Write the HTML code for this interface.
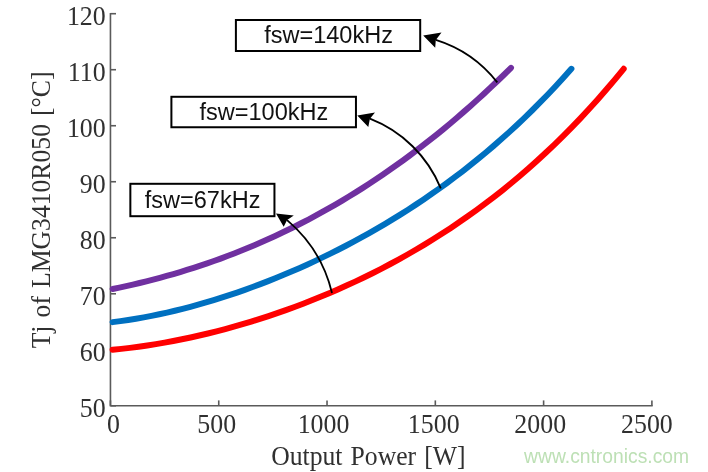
<!DOCTYPE html>
<html><head><meta charset="utf-8"><title>Tj vs Output Power</title>
<style>
html,body{margin:0;padding:0;background:#fff;}
svg{display:block;filter:blur(0.45px);}
.tk{font-family:"Liberation Serif",serif;font-size:27.3px;fill:#303030;}
.lb{font-family:"Liberation Serif",serif;font-size:27.3px;fill:#303030;word-spacing:1.8px;}
.an{font-family:"Liberation Sans",sans-serif;font-size:24px;fill:#111;}
.wm{font-family:"Liberation Sans",sans-serif;font-size:19.3px;fill:#bde0b5;}
</style></head><body>
<svg width="708" height="472" viewBox="0 0 708 472">
<rect width="708" height="472" fill="#fff"/>
<!-- axes -->
<g fill="none" stroke="#5a5a5a" stroke-width="1.6">
<path d="M110.45 12.9 V405.8 H652.7"/>
<line x1="110.5" y1="405.80" x2="116" y2="405.80"/>
<line x1="110.5" y1="349.79" x2="116" y2="349.79"/>
<line x1="110.5" y1="293.77" x2="116" y2="293.77"/>
<line x1="110.5" y1="237.76" x2="116" y2="237.76"/>
<line x1="110.5" y1="181.74" x2="116" y2="181.74"/>
<line x1="110.5" y1="125.73" x2="116" y2="125.73"/>
<line x1="110.5" y1="69.71" x2="116" y2="69.71"/>
<line x1="110.5" y1="13.70" x2="116" y2="13.70"/>
<line x1="110.45" y1="405.8" x2="110.45" y2="400.4"/>
<line x1="218.74" y1="405.8" x2="218.74" y2="400.4"/>
<line x1="327.03" y1="405.8" x2="327.03" y2="400.4"/>
<line x1="435.32" y1="405.8" x2="435.32" y2="400.4"/>
<line x1="543.61" y1="405.8" x2="543.61" y2="400.4"/>
<line x1="651.90" y1="405.8" x2="651.90" y2="400.4"/>
</g>
<!-- curves -->
<g fill="none" stroke-width="6.0" stroke-linecap="round" stroke-linejoin="round">
<path d="M112.60 288.98 L119.35 287.57 L126.11 286.11 L132.86 284.58 L139.61 282.99 L146.36 281.34 L153.12 279.61 L159.87 277.83 L166.62 275.97 L173.37 274.05 L180.13 272.05 L186.88 269.98 L193.63 267.85 L200.38 265.64 L207.14 263.35 L213.89 260.99 L220.64 258.56 L227.39 256.04 L234.15 253.45 L240.90 250.79 L247.65 248.04 L254.40 245.21 L261.16 242.30 L267.91 239.30 L274.66 236.22 L281.41 233.06 L288.17 229.81 L294.92 226.47 L301.67 223.05 L308.42 219.54 L315.18 215.93 L321.93 212.24 L328.68 208.45 L335.43 204.57 L342.19 200.60 L348.94 196.53 L355.69 192.37 L362.44 188.11 L369.20 183.75 L375.95 179.29 L382.70 174.74 L389.45 170.08 L396.21 165.32 L402.96 160.45 L409.71 155.49 L416.46 150.42 L423.22 145.24 L429.97 139.95 L436.72 134.56 L443.47 129.06 L450.23 123.45 L456.98 117.72 L463.73 111.89 L470.48 105.94 L477.24 99.88 L483.99 93.70 L490.74 87.41 L497.49 81.00 L504.25 74.47 L511.00 67.83" stroke="#7030a0"/>
<path d="M112.60 322.12 L120.38 321.11 L128.15 319.98 L135.93 318.73 L143.71 317.35 L151.48 315.87 L159.26 314.27 L167.03 312.56 L174.81 310.75 L182.59 308.83 L190.36 306.80 L198.14 304.67 L205.92 302.45 L213.69 300.12 L221.47 297.70 L229.24 295.18 L237.02 292.56 L244.80 289.84 L252.57 287.03 L260.35 284.13 L268.13 281.13 L275.90 278.03 L283.68 274.84 L291.45 271.55 L299.23 268.17 L307.01 264.68 L314.78 261.10 L322.56 257.41 L330.34 253.63 L338.11 249.74 L345.89 245.74 L353.66 241.64 L361.44 237.42 L369.22 233.10 L376.99 228.66 L384.77 224.10 L392.55 219.42 L400.32 214.61 L408.10 209.68 L415.87 204.62 L423.65 199.43 L431.43 194.09 L439.20 188.61 L446.98 182.99 L454.76 177.21 L462.53 171.28 L470.31 165.19 L478.08 158.93 L485.86 152.50 L493.64 145.90 L501.41 139.11 L509.19 132.13 L516.97 124.97 L524.74 117.60 L532.52 110.02 L540.29 102.23 L548.07 94.23 L555.85 85.99 L563.62 77.53 L571.40 68.82" stroke="#0070c0"/>
<path d="M112.60 349.77 L121.26 348.88 L129.93 347.87 L138.59 346.73 L147.25 345.48 L155.91 344.10 L164.58 342.61 L173.24 341.01 L181.90 339.29 L190.56 337.46 L199.23 335.52 L207.89 333.47 L216.55 331.31 L225.22 329.05 L233.88 326.67 L242.54 324.18 L251.20 321.59 L259.87 318.89 L268.53 316.08 L277.19 313.15 L285.85 310.12 L294.52 306.97 L303.18 303.71 L311.84 300.33 L320.51 296.83 L329.17 293.21 L337.83 289.47 L346.49 285.60 L355.16 281.60 L363.82 277.48 L372.48 273.22 L381.14 268.82 L389.81 264.27 L398.47 259.59 L407.13 254.75 L415.79 249.76 L424.46 244.61 L433.12 239.29 L441.78 233.81 L450.45 228.16 L459.11 222.32 L467.77 216.31 L476.43 210.10 L485.10 203.69 L493.76 197.09 L502.42 190.27 L511.08 183.24 L519.75 175.98 L528.41 168.50 L537.07 160.78 L545.74 152.81 L554.40 144.60 L563.06 136.12 L571.72 127.37 L580.39 118.35 L589.05 109.04 L597.71 99.44 L606.37 89.54 L615.04 79.32 L623.70 68.78" stroke="#ff0000"/>
</g>
<text class="tk" transform="translate(105.70,416.70) scale(0.948,1)" text-anchor="end">50</text>
<text class="tk" transform="translate(105.70,360.69) scale(0.948,1)" text-anchor="end">60</text>
<text class="tk" transform="translate(105.70,304.67) scale(0.948,1)" text-anchor="end">70</text>
<text class="tk" transform="translate(105.70,248.66) scale(0.948,1)" text-anchor="end">80</text>
<text class="tk" transform="translate(105.70,192.64) scale(0.948,1)" text-anchor="end">90</text>
<text class="tk" transform="translate(105.70,136.63) scale(0.948,1)" text-anchor="end">100</text>
<text class="tk" transform="translate(105.70,80.61) scale(0.948,1)" text-anchor="end">110</text>
<text class="tk" transform="translate(105.70,24.60) scale(0.948,1)" text-anchor="end">120</text>
<text class="tk" transform="translate(113.50,433.10) scale(0.948,1)" text-anchor="middle">0</text>
<text class="tk" transform="translate(216.75,433.10) scale(0.948,1)" text-anchor="middle">500</text>
<text class="tk" transform="translate(323.50,433.10) scale(0.948,1)" text-anchor="middle">1000</text>
<text class="tk" transform="translate(433.70,433.10) scale(0.948,1)" text-anchor="middle">1500</text>
<text class="tk" transform="translate(540.20,433.10) scale(0.948,1)" text-anchor="middle">2000</text>
<text class="tk" transform="translate(646.90,433.10) scale(0.948,1)" text-anchor="middle">2500</text>

<text class="lb" transform="translate(50.20,209.90) rotate(-90) scale(0.940,1)" text-anchor="middle">Tj of LMG3410R050 [°C]</text>

<text class="lb" transform="translate(368.40,464.80) scale(0.940,1)" text-anchor="middle">Output Power [W]</text>

<!-- arrows -->
<g fill="none" stroke="#000" stroke-width="1.8">
<path d="M497.3 82.4 A125.9 125.9 0 0 0 435.8 39.9"/>
<path d="M440.8 188.4 A125.6 125.6 0 0 0 369.9 118.7"/>
<path d="M332 293 A137.1 137.1 0 0 0 287.1 220.1"/>
</g>
<g fill="#000">
<path d="M423.2 35.4 L441.5 32.4 L435.8 39.9 L435.2 47.8 Z"/>
<path d="M357.3 115.5 L375 112.6 L369.9 118.7 L368.3 126.9 Z"/>
<path d="M276 213.5 L293.8 215.5 L287.1 220.1 L283.7 226.7 Z"/>
</g>
<!-- label boxes -->
<g fill="#fff" stroke="#000" stroke-width="2">
<rect x="235.9" y="20.0" width="184.3" height="31.0"/>
<rect x="171.4" y="96.8" width="184.55" height="30.45"/>
<rect x="130.35" y="183.8" width="144.1" height="32.4"/>
</g>
<text class="an" transform="translate(264.20,43.00) scale(0.980,1)" text-anchor="start">fsw=140kHz</text>
<text class="an" transform="translate(199.50,120.00) scale(0.980,1)" text-anchor="start">fsw=100kHz</text>
<text class="an" transform="translate(144.80,207.80) scale(0.980,1)" text-anchor="start">fsw=67kHz</text>

<text class="wm" x="606.6" y="463.3" text-anchor="middle">www.cntronics.com</text>
</svg>
</body></html>
